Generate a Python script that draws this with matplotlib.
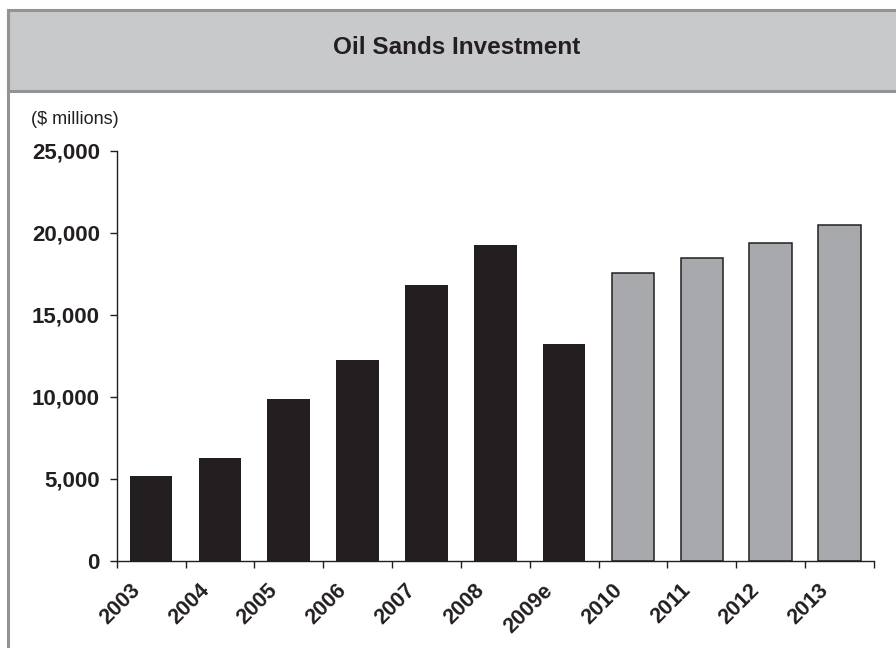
import matplotlib
matplotlib.use('Agg')
import matplotlib.pyplot as plt
from matplotlib.patches import Rectangle
from matplotlib.lines import Line2D
from matplotlib.ticker import FuncFormatter
from matplotlib.transforms import ScaledTranslation
import numpy as np

years = ['2003', '2004', '2005', '2006', '2007', '2008', '2009e',
         '2010', '2011', '2012', '2013']
investment = [5200, 6300, 9850, 12250, 16800, 19250, 13250,
              17550, 18450, 19400, 20450]
is_forecast = [False] * 7 + [True] * 4

plt.rcParams['font.family'] = ['Liberation Sans', 'DejaVu Sans']

dark = '#231f20'
fig = plt.figure(figsize=(8.96, 6.48), dpi=100)

# title band and frame
border = '#939393'
fig.patches.append(Rectangle((0.0089, 0.8588), 1.2, 0.1250, transform=fig.transFigure,
                             facecolor='#c8c9cb', edgecolor=border, linewidth=2.2, zorder=0))
fig.lines.append(Line2D([0.0089, 0.0089], [0.0, 0.984], transform=fig.transFigure,
                        color=border, linewidth=2.2))
fig.text(0.510, 1 - 47 / 648, 'Oil Sands Investment', ha='center', va='center',
         fontsize=17.5, fontweight='bold', color=dark)
fig.text(31 / 896, 1 - 119 / 648, '($ millions)', ha='left', va='center',
         fontsize=13, color=dark)

ax = fig.add_axes([0.1302, 0.1343, 0.8452, 0.6331])
x = np.arange(len(years))
for xi, val, fc in zip(x, investment, is_forecast):
    if fc:
        ax.bar(xi, val, width=0.62, color='#a7a9ac', edgecolor=dark, linewidth=1.1)
    else:
        ax.bar(xi, val, width=0.62, color=dark, edgecolor='none')

ax.set_xlim(-0.5, len(years) - 0.5)
ax.set_ylim(0, 25000)
ax.set_yticks(np.arange(0, 25001, 5000))
ax.yaxis.set_major_formatter(FuncFormatter(lambda v, p: '{:,.0f}'.format(v)))

ax.set_xticks(np.arange(-0.5, len(years) + 0.5, 1.0))
ax.set_xticklabels([])
ax.set_xticks(x, minor=True)
ax.set_xticklabels(years, minor=True)

for side in ['top', 'right']:
    ax.spines[side].set_visible(False)
for side in ['left', 'bottom']:
    ax.spines[side].set_color(dark)
    ax.spines[side].set_linewidth(1.0)

ax.tick_params(axis='y', direction='out', length=5, width=1.0, color=dark,
               labelsize=16, pad=7, labelcolor=dark)
ax.tick_params(axis='x', which='major', direction='out', length=5, width=1.0, color=dark)
ax.tick_params(axis='x', which='minor', length=0, pad=19, labelsize=15.5, labelcolor=dark)
for lbl in ax.get_yticklabels():
    lbl.set_fontweight('bold')

offset = ScaledTranslation(-0.14, 0, fig.dpi_scale_trans)
for lbl in ax.get_xticklabels(minor=True):
    lbl.set_fontweight('bold')
    lbl.set_rotation(45)
    lbl.set_ha('right')
    lbl.set_va('center')
    lbl.set_rotation_mode('anchor')
    lbl.set_transform(lbl.get_transform() + offset)

fig.savefig('out.png', dpi=100)
